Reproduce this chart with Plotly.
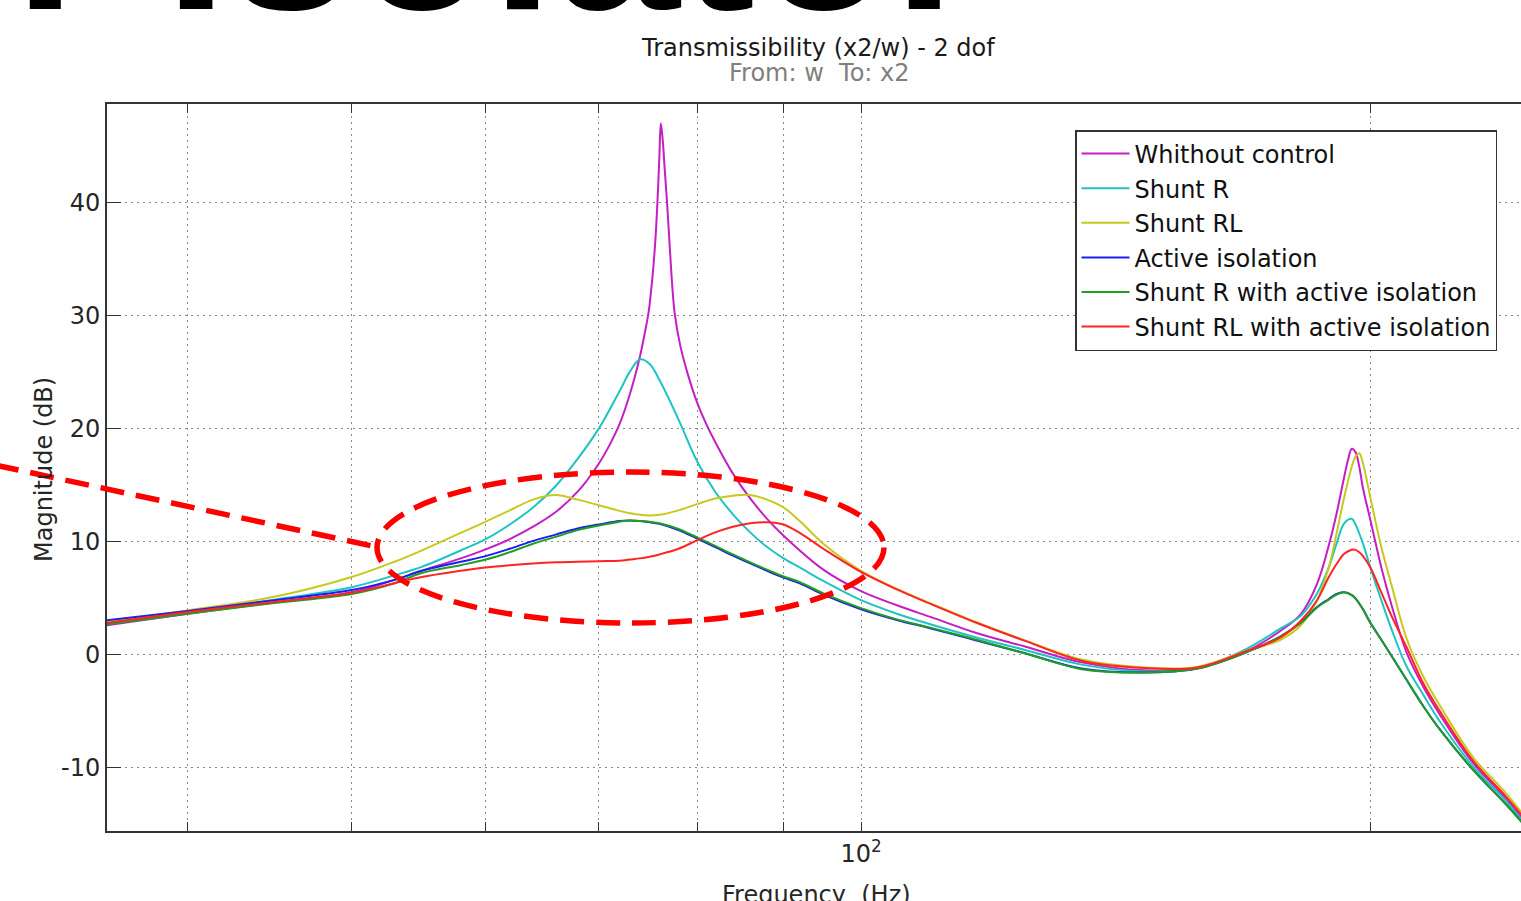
import math
import plotly.graph_objects as go

# ---------------- data ----------------
freq = [35.7, 40, 45, 50, 53, 55, 58, 60, 62, 64, 66, 68, 70, 72, 73, 74, 75, 76, 78, 80,
        82, 84, 86, 88, 90, 92, 95, 100, 105, 110, 117, 125, 135, 147, 158, 169, 177, 182, 186,
        189, 191, 193, 195, 196, 197, 198, 200, 203, 206, 210, 215, 220, 230, 240, 246]

freq_nc = [35.7, 40, 45, 50, 53, 55, 58, 60, 62, 64, 66, 68, 70, 71, 72, 73, 74, 74.5, 74.9, 75.3,
           75.6, 75.8, 76.0, 76.15, 76.35, 76.55, 76.8, 77.1, 77.6, 78.2, 79, 80, 81, 82, 84, 86,
           88, 90, 95, 100, 105, 110, 117, 125, 135, 147, 158, 169, 177, 182, 186, 189, 191, 193,
           194, 195, 196, 197, 198, 200, 203, 206, 210, 215, 220, 230, 240, 246]

db_without_control = [2.55, 3.6, 4.6, 5.5, 6.6, 7.4, 8.5, 9.3, 10.2, 11.3,
                      12.6, 14.4, 16.9, 18.5, 20.4, 23.0, 26.3, 28.4, 30.3, 33.5,
                      36.8, 40.0, 44.0, 47.0, 45.5, 43.0, 40.0, 35.8, 30.2, 27.3,
                      24.8, 22.3, 20.4, 18.8, 16.0, 13.8,
                      12.0, 10.5, 7.5, 5.6, 4.35, 3.3, 1.9, 0.7, -0.7, -1.4,
                      -1.15, 0.3, 2.1, 3.6, 6.25, 9.65, 12.45, 15.7,
                      17.2, 18.2, 17.9, 16.6, 14.7, 11.9, 7.7, 4.2, 0.25, -2.9,
                      -5.4, -9.6, -12.6, -14.5]

db_shunt_r = [2.8, 3.75, 4.85, 5.95, 7.0, 7.75, 9.2, 10.2, 11.5, 13.0,
              14.9, 17.3, 20.0, 23.3, 25.0, 26.1, 25.7, 24.3, 20.8, 17.1,
              14.4, 12.4, 10.8, 9.5, 8.5, 7.7, 6.5, 4.8, 3.6, 2.65, 1.5,
              0.4, -0.9, -1.5, -1.2, 0.5, 2.3, 3.45, 5.4, 7.7, 9.8,
              11.6, 12.0, 11.5, 10.7, 9.8, 7.7, 4.8, 2.1, -1.0, -3.6,
              -6.0, -9.9, -12.8, -14.7]

db_shunt_rl = [2.8, 3.9, 5.1, 6.85, 8.2, 9.2, 10.75, 11.75, 12.75, 13.7,
               14.1, 13.7, 13.2, 12.7, 12.5, 12.35, 12.3, 12.35, 12.75, 13.3,
               13.8, 14.05, 14.1, 13.7, 13.0, 11.8, 9.8, 7.4, 5.8, 4.5, 2.85,
               1.25, -0.45, -1.15, -1.1, 0.3, 1.3, 2.6, 4.8, 7.7, 10.7,
               13.9, 16.6, 17.5, 17.8, 16.9, 13.9, 9.5, 5.95, 1.5, -2.0,
               -4.6, -9.1, -12.1, -14.1]

db_active = [3.0, 3.85, 4.8, 5.7, 6.6, 7.4, 8.2, 8.7, 9.35, 10.05,
             10.6, 11.15, 11.5, 11.8, 11.85, 11.8, 11.7, 11.55, 11.0, 10.25,
             9.5, 8.75, 8.05, 7.4, 6.8, 6.3, 5.3, 4.0, 3.05, 2.3, 1.24,
             0.1, -1.25, -1.6, -1.25, 0.2, 1.6, 2.85, 4.2, 4.9, 5.35,
             5.5, 5.25, 4.95, 4.5, 4.0, 2.8, 1.3, -0.2, -2.2, -4.6,
             -6.7, -10.2, -13.1, -14.9]

db_shunt_r_active = [2.65, 3.6, 4.55, 5.35, 6.3, 7.2, 7.9, 8.4, 9.05, 9.8,
                     10.4, 11.0, 11.4, 11.75, 11.85, 11.8, 11.75, 11.6, 11.1, 10.35,
                     9.6, 8.85, 8.15, 7.5, 6.9, 6.4, 5.4, 4.1, 3.1, 2.35, 1.3,
                     0.1, -1.3, -1.6, -1.25, 0.2, 1.6, 2.8, 4.15, 4.85, 5.3,
                     5.5, 5.25, 4.95, 4.5, 4.0, 2.8, 1.3, -0.2, -2.2, -4.6,
                     -6.7, -10.2, -13.1, -14.9]

db_shunt_rl_active = [2.75, 3.75, 4.65, 5.45, 6.3, 6.85, 7.4, 7.7, 7.9, 8.05,
                      8.15, 8.2, 8.25, 8.3, 8.4, 8.5, 8.65, 8.85, 9.35, 10.1,
                      10.8, 11.3, 11.6, 11.7, 11.5, 10.75, 9.35, 7.3, 5.75, 4.45, 2.8,
                      1.2, -0.55, -1.2, -1.15, 0.3, 1.5, 3.0, 4.8, 6.85, 8.0,
                      8.9, 9.27, 9.25, 9.05, 8.7, 7.7, 5.5, 3.3, 0.7, -2.6,
                      -5.1, -9.4, -12.4, -14.3]

series_names = ["Whithout control", "Shunt R", "Shunt RL", "Active isolation",
                "Shunt R with active isolation", "Shunt RL with active isolation"]
series_colors = ["#c41ec4", "#1ec4c4", "#c8c81e", "#1e1ef0", "#1ea01e", "#ff2424"]
series_x = [freq_nc, freq, freq, freq, freq, freq]
series_y = [db_without_control, db_shunt_r, db_shunt_rl, db_active,
            db_shunt_r_active, db_shunt_rl_active]

x_tick_vals = [40, 50, 60, 70, 80, 90, 100, 200]
x_tick_text = ["", "", "", "", "", "", "10<sup>2</sup>", ""]
y_tick_vals = [-10, 0, 10, 20, 30, 40]
y_tick_text = ["-10", "0", "10", "20", "30", "40"]

# ---------------- layout geometry ----------------
W, H = 1521, 901
L, R, T, B = 107, 0, 104, 70
PW, PH = W - L - R, H - T - B


def px(xp):
    return (xp - L) / PW


def py(yp):
    return (H - B - yp) / PH


FONT = "DejaVu Sans"

fig = go.Figure()
for name, col, xs, ys in zip(series_names, series_colors, series_x, series_y):
    fig.add_trace(go.Scatter(
        x=xs, y=ys, mode="lines", name=name, legendgroup=name,
        line=dict(color=col, width=2, shape="spline", smoothing=1.0),
    ))

grid = dict(showgrid=True, gridcolor="#8a8a8a", gridwidth=1, griddash="2px,4px")

fig.update_layout(
    width=W, height=H,
    margin=dict(l=L, r=R, t=T, b=B, pad=0),
    paper_bgcolor="white", plot_bgcolor="white",
    font=dict(family=FONT, size=24, color="#222222"),
    showlegend=True,
    legend=dict(
        x=px(1075), y=py(130), xanchor="left", yanchor="top",
        bgcolor="white", bordercolor="#333333", borderwidth=1.5,
        font=dict(family=FONT, size=24, color="#111111"),
        tracegroupgap=0.4, itemwidth=48,
    ),
    xaxis=dict(
        type="log", range=[math.log10(35.84), math.log10(245.5)],
        tickmode="array", tickvals=x_tick_vals, ticktext=x_tick_text,
        ticks="inside", ticklen=9, tickwidth=1.2, tickcolor="#333333",
        showline=True, linecolor="#333333", linewidth=2, mirror="ticks",
        zeroline=False, tickfont=dict(family=FONT, size=24, color="#262626"),
        **grid,
    ),
    yaxis=dict(
        range=[-15.62, 48.7], tickmode="array", tickvals=y_tick_vals,
        ticktext=y_tick_text,
        ticks="inside", ticklen=14, tickwidth=1.2, tickcolor="#333333",
        showline=True, linecolor="#333333", linewidth=2, mirror=False,
        zeroline=False, tickfont=dict(family=FONT, size=24, color="#262626"),
        **grid,
    ),
)

annotations = [
    dict(text="Transmissibility (x2/w) - 2 dof", x=px(817.5), y=py(48),
         xanchor="center", yanchor="middle",
         font=dict(family=FONT, size=24, color="#1a1a1a")),
    dict(text="From: w\u00a0 To: x2", x=px(819.5), y=py(73),
         xanchor="center", yanchor="middle",
         font=dict(family=FONT, size=24, color="#7f7f7f")),
    dict(text="Frequency\u00a0 (Hz)", x=px(816), y=py(879),
         xanchor="center", yanchor="top",
         font=dict(family=FONT, size=24, color="#262626")),
    dict(text="Magnitude (dB)", x=px(44), y=py(470), textangle=-90,
         xanchor="center", yanchor="middle",
         font=dict(family=FONT, size=24, color="#262626")),
    dict(text="<b>r Isolator</b>", x=px(12), y=py(59),
         xanchor="left", yanchor="bottom",
         font=dict(family="Liberation Sans", size=226, color="#000000")),
]
for a in annotations:
    a.update(xref="paper", yref="paper", showarrow=False)
fig.update_layout(annotations=annotations)

# red dashed highlight (ellipse + pointer line)
fig.add_shape(type="circle", xref="paper", yref="paper",
              x0=px(377), x1=px(884), y0=py(623), y1=py(472),
              line=dict(color="#ff0000", width=5.5, dash="24px,12px"), layer="above")
fig.add_shape(type="line", xref="paper", yref="paper",
              x0=px(-5), y0=py(465), x1=px(377), y1=py(547),
              line=dict(color="#ff0000", width=5.5, dash="24px,12px"), layer="above")

fig.write_html(
    "out.html",
    config={"displayModeBar": False},
    post_script="document.body.style.margin='0px';document.body.style.overflow='hidden';",
)
